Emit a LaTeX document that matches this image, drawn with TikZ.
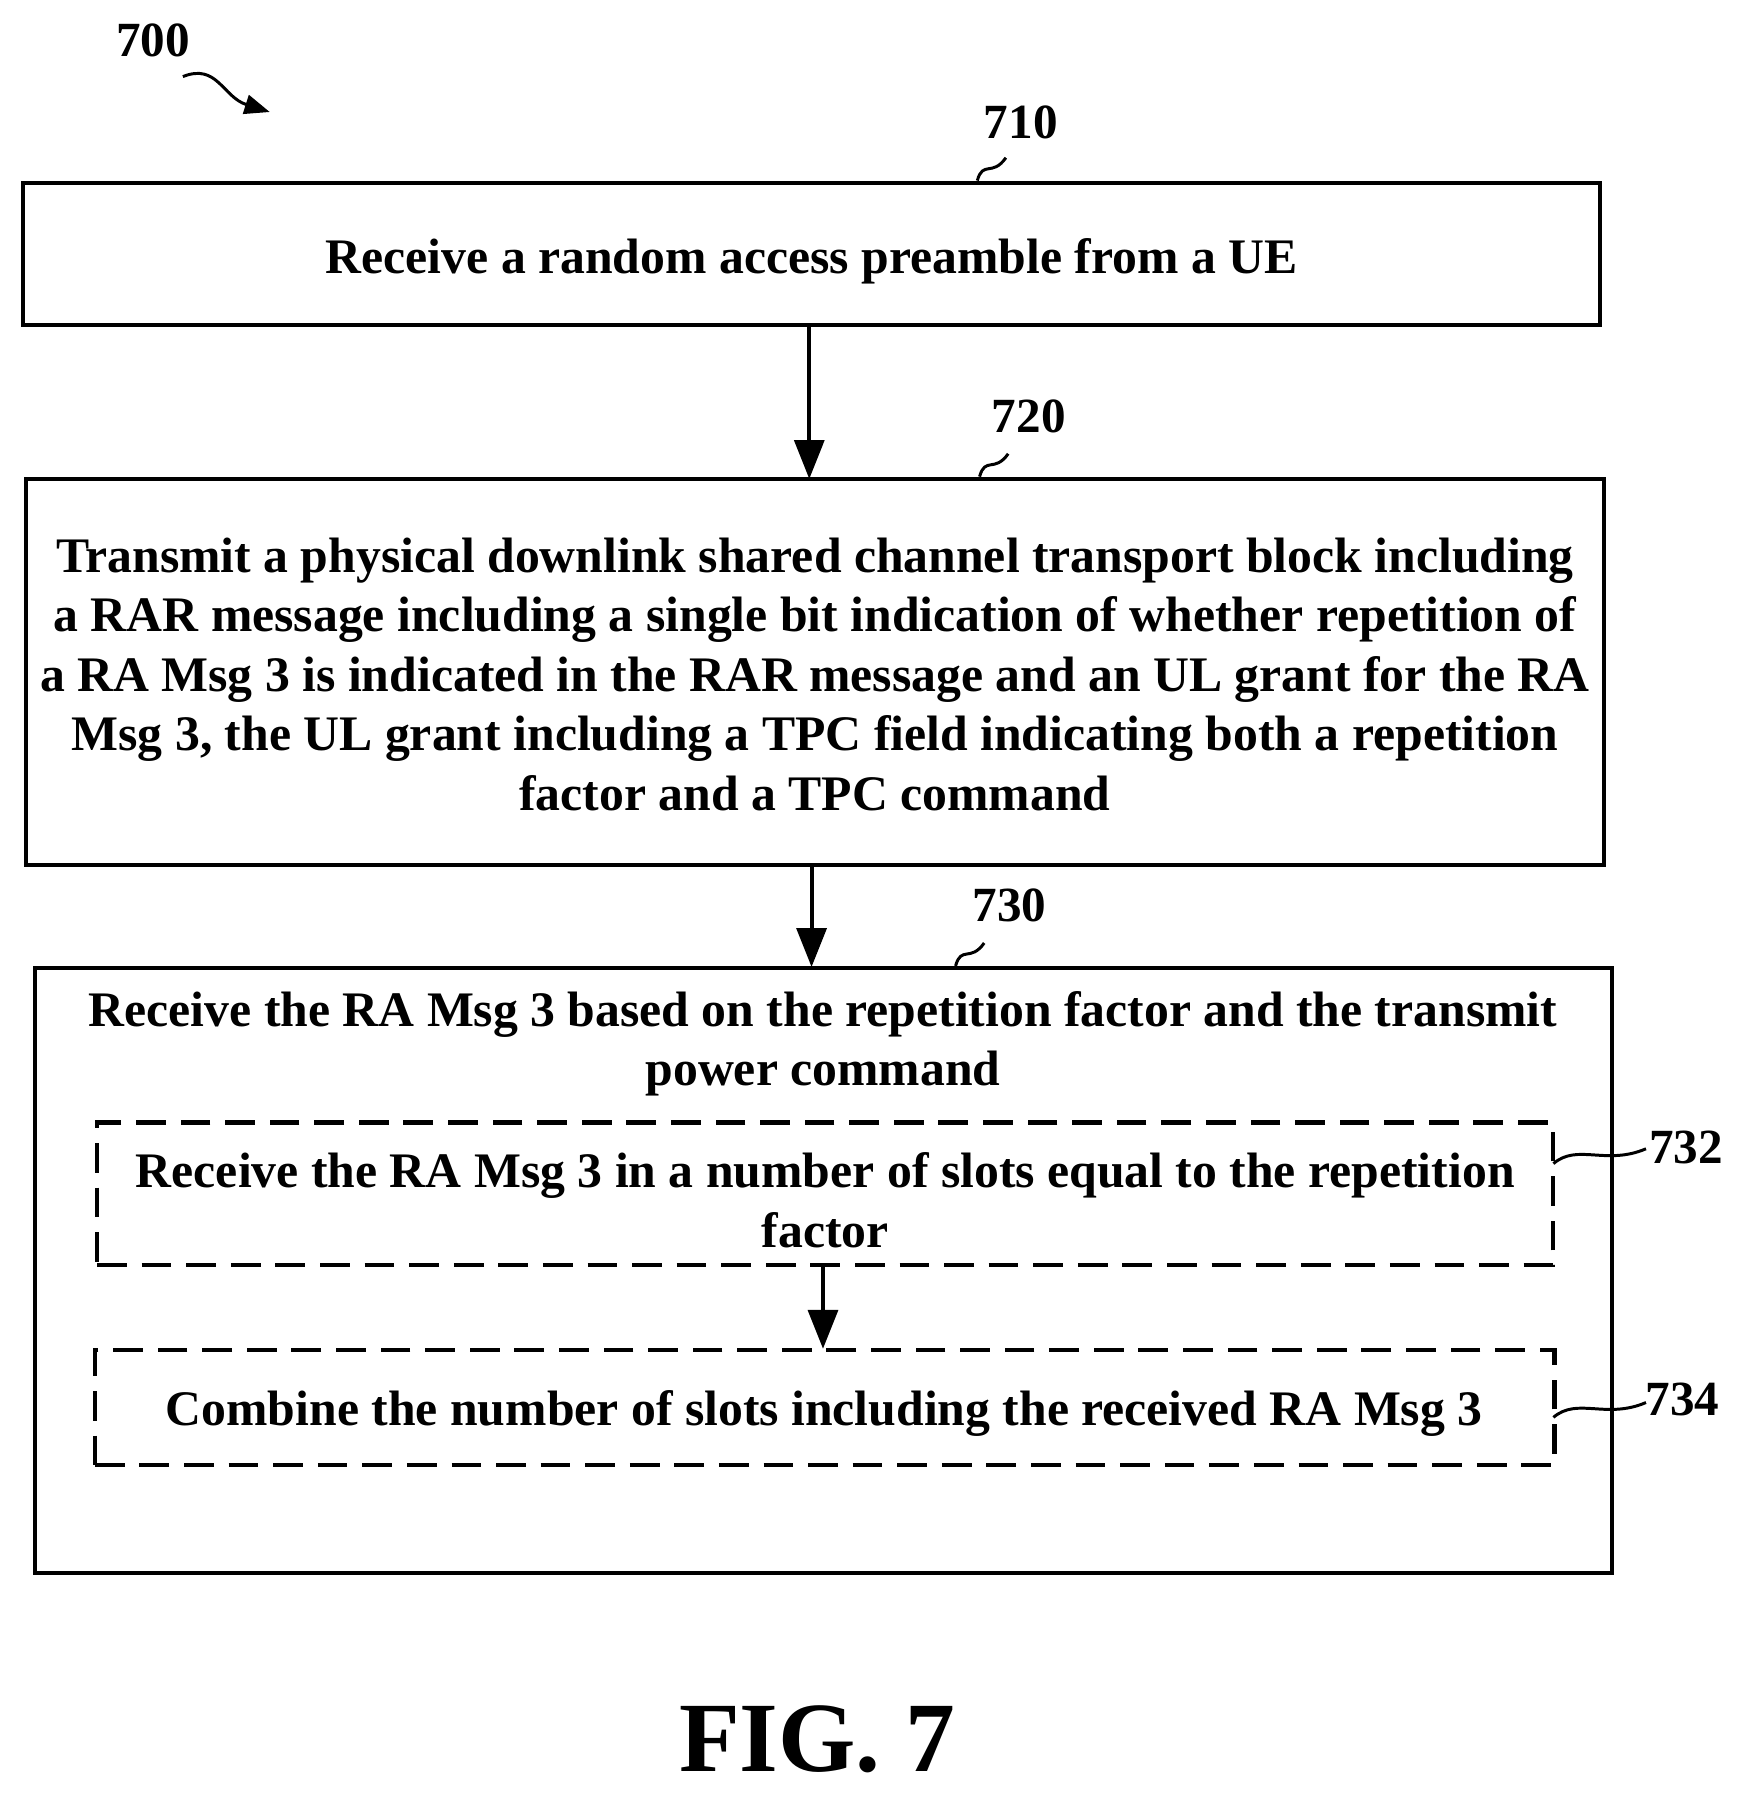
\documentclass[tikz,border=0pt]{standalone}
\usepackage{fontspec}
\setmainfont{Liberation Serif}
\usetikzlibrary{arrows.meta}
\begin{document}
\begin{tikzpicture}[x=1pt,y=-1pt,
  box/.style={draw,line width=3.6pt,inner sep=0pt},
  dbox/.style={draw,line width=3.6pt,dash pattern=on 26pt off 13pt,inner sep=0pt},
  txt/.style={font=\fontsize{43.5}{52}\selectfont\bfseries,align=center},
  lbl/.style={font=\fontsize{43}{46}\selectfont\bfseries},
  arr/.style={line width=3.6pt,-{Triangle[length=34pt,width=26pt]}},
  sq/.style={line width=2.6pt}]
\useasboundingbox (0,0) rectangle (1530,1573);
\node[box,minimum width=1380pt,minimum height=124pt] (b710) at (710,222) {};
\node[txt] (t710) at (710,229) {Receive a random access preamble from a UE};
\node[box,minimum width=1380pt,minimum height=338pt] (b720) at (713,588) {};
\node[txt] (t720) at (713,590) {Transmit a physical downlink shared channel transport block including\\a RAR message including a single bit indication of whether repetition of\\a RA Msg 3 is indicated in the RAR message and an UL grant for the RA\\Msg 3, the UL grant including a TPC field indicating both a repetition\\factor and a TPC command};
\node[box,minimum width=1379pt,minimum height=529pt] (b730) at (720.5,1111.5) {};
\node[txt] (t730) at (720,913) {Receive the RA Msg 3 based on the repetition factor and the transmit\\power command};
\node[dbox,minimum width=1274pt,minimum height=125pt] (b732) at (722,1044.5) {};
\node[txt] (t732) at (722,1050) {Receive the RA Msg 3 in a number of slots equal to the repetition\\factor};
\node[dbox,minimum width=1277pt,minimum height=101pt] (b734) at (721.5,1231.5) {};
\node[txt] (t734) at (721,1237) {Combine the number of slots including the received RA Msg 3};
\draw[arr] (708,284) -- (708,419);
\draw[arr] (710,757) -- (710,846);
\draw[arr] (720,1107) -- (720,1180);
\node[lbl] (l700) at (134,35) {700};
\node[lbl] (l710) at (893,107) {710};
\node[lbl] (l720) at (900,364) {720};
\node[lbl] (l730) at (883,792) {730};
\node[lbl] (l732) at (1475,1004) {732};
\node[lbl] (l734) at (1472,1224) {734};
\draw[sq] (855,158) .. controls (860,140) and (868,155) .. (880,138);
\draw[sq] (857,417) .. controls (862,399) and (870,414) .. (882,397);
\draw[sq] (836,845) .. controls (841,827) and (849,842) .. (861,825);
\draw[sq] (1359,1018) .. controls (1380,1000) and (1405,1020) .. (1440,1005);
\draw[sq] (1359,1240) .. controls (1380,1222) and (1405,1242) .. (1440,1227);
\draw[sq,-{Triangle[length=22pt,width=17pt]}] (160,67) .. controls (190,55) and (195,85) .. (236,98);
\node[font=\fontsize{87}{100}\selectfont\bfseries] (fig) at (715,1522) {FIG. 7};
\end{tikzpicture}
\end{document}
